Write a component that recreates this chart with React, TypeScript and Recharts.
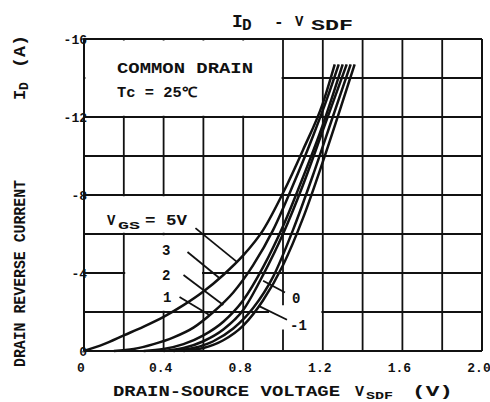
import { LineChart, Line, XAxis, YAxis, CartesianGrid, ReferenceArea, ReferenceLine } from "recharts";

// grid / tick values
const xTicks = [0, 0.2, 0.4, 0.6, 0.8, 1.0, 1.2, 1.4, 1.6, 1.8, 2.0];
const xLabels = ["0", "", "0.4", "", "0.8", "", "1.2", "", "1.6", "", "2.0"];
const yTicks = [-16, -14, -12, -10, -8, -6, -4, -2, 0];
const yLabels = ["-16", "", "-12", "", "-8", "", "-4", "", "0"];

// V_SDF (V), I_D (A)
const vgs5: [number, number][] = [
  [0, 0], [0.1, -0.35], [0.2, -0.8], [0.3, -1.25], [0.4, -1.75], [0.5, -2.35], [0.6, -3.05],
  [0.7, -3.9], [0.8, -4.9], [0.9, -6.2], [1.0, -8.1], [1.1, -10.3], [1.2, -12.7], [1.26, -14.7],
];
const vgs3: [number, number][] = [
  [0.15, 0], [0.25, -0.1], [0.35, -0.35], [0.45, -0.7], [0.55, -1.2], [0.65, -2.0], [0.75, -3.0],
  [0.85, -4.4], [0.95, -6.2], [1.05, -8.5], [1.15, -11.0], [1.22, -12.9], [1.28, -14.7],
];
const vgs2: [number, number][] = [
  [0.3, 0], [0.4, -0.1], [0.5, -0.35], [0.6, -0.8], [0.7, -1.5], [0.8, -2.6], [0.9, -4.3],
  [1.0, -6.4], [1.1, -8.9], [1.2, -11.6], [1.3, -14.7],
];
const vgs1: [number, number][] = [
  [0.4, 0], [0.5, -0.15], [0.6, -0.5], [0.7, -1.1], [0.8, -2.1], [0.9, -3.9], [1.0, -6.0],
  [1.1, -8.5], [1.2, -11.3], [1.32, -14.7],
];
const vgs0: [number, number][] = [
  [0.45, 0], [0.55, -0.15], [0.65, -0.5], [0.75, -1.15], [0.85, -2.2], [0.95, -3.8], [1.05, -6.2],
  [1.15, -9.0], [1.25, -12.0], [1.34, -14.7],
];
const vgsM1: [number, number][] = [
  [0.5, 0], [0.6, -0.15], [0.7, -0.55], [0.8, -1.3], [0.9, -2.6], [1.0, -4.4], [1.1, -6.8],
  [1.2, -9.7], [1.3, -12.8], [1.36, -14.7],
];

const curves = [vgs5, vgs3, vgs2, vgs1, vgs0, vgsM1];

// label leader lines [from, to] as (V, I)
const leaders: [number, number, number, number][] = [
  [0.56, -6.3, 0.77, -4.56],
  [0.52, -5.08, 0.68, -3.74],
  [0.5, -3.9, 0.7, -2.36],
  [0.48, -2.77, 0.63, -1.85],
  [0.9, -3.6, 1.01, -3.0],
  [0.88, -2.3, 1.02, -1.6],
];

const INK = "#111";
const FONT = "'Liberation Mono', 'DejaVu Sans Mono', monospace";

export default function App() {
  const series = curves.map((pts) => pts.map(([v, i]) => ({ v, i })));

  return (
    <div style={{ position: "absolute", left: 0, top: 0, width: 490, height: 402, background: "#fff" }}>
      <LineChart width={490} height={402} margin={{ top: 39, right: 8, bottom: 21, left: 44 }}>
        <CartesianGrid stroke={INK} strokeWidth={1.8} />
        <XAxis
          dataKey="v"
          type="number"
          domain={[0, 2]}
          ticks={xTicks}
          interval={0}
          height={30}
          tickSize={0}
          tickMargin={12}
          axisLine={{ stroke: INK, strokeWidth: 2 }}
          tick={{ fill: INK, fontSize: 13, fontFamily: FONT, fontWeight: "bold", dx: -3 }}
          tickFormatter={(v: number) => xLabels[xTicks.indexOf(v)] ?? ""}
          allowDuplicatedCategory={false}
        />
        <YAxis
          dataKey="i"
          type="number"
          domain={[-16, 0]}
          reversed
          ticks={yTicks}
          interval={0}
          width={40}
          tickSize={0}
          tickMargin={0}
          axisLine={{ stroke: INK, strokeWidth: 2 }}
          tick={{ fill: INK, fontSize: 13, fontFamily: FONT, fontWeight: "bold", dx: 3 }}
          tickFormatter={(v: number) => yLabels[yTicks.indexOf(v)] ?? ""}
        />
        {/* blank patches of the printed grid behind the notes */}
        <ReferenceArea x1={0.007} x2={0.993} y1={-15.92} y2={-12.07} fill="#fff" fillOpacity={1} stroke="none" />
        <ReferenceArea x1={0.007} x2={0.593} y1={-7.93} y2={-6.07} fill="#fff" fillOpacity={1} stroke="none" />
        <ReferenceArea x1={0.207} x2={0.593} y1={-5.93} y2={-2.07} fill="#fff" fillOpacity={1} stroke="none" />
        <ReferenceArea x1={0.93} x2={1.193} y1={-2.35} y2={-1.1} fill="#fff" fillOpacity={1} stroke="none" />
        <ReferenceLine y={-16} stroke={INK} strokeWidth={2} />
        <ReferenceLine x={2} stroke={INK} strokeWidth={2} />
        {leaders.map(([x1, y1, x2, y2], k) => (
          <ReferenceLine
            key={`ld${k}`}
            segment={[{ x: x1, y: y1 }, { x: x2, y: y2 }]}
            stroke={INK}
            strokeWidth={1.8}
          />
        ))}
        {series.map((d, k) => (
          <Line
            key={`c${k}`}
            data={d}
            dataKey="i"
            type="monotone"
            dot={false}
            stroke={INK}
            strokeWidth={2.5}
            isAnimationActive={false}
          />
        ))}
      </LineChart>
      <svg
        width={490}
        height={402}
        style={{ position: "absolute", left: 0, top: 0, pointerEvents: "none" }}
        fontFamily={FONT}
        fontWeight="bold"
        fill={INK}
      >
        {/* title */}
        <text x={232} y={27} fontSize={18}>I</text>
        <text x={242} y={30} fontSize={16}>D</text>
        <text x={274} y={27} fontSize={16}>-</text>
        <text x={295} y={26} fontSize={14}>V</text>
        <text x={311} y={30} fontSize={15} textLength={42} lengthAdjust="spacingAndGlyphs">SDF</text>

        {/* y axis title */}
        <g transform="translate(25 367) rotate(-90)">
          <text x={0} y={0} fontSize={17} textLength={187} lengthAdjust="spacingAndGlyphs">
            DRAIN REVERSE CURRENT
          </text>
          <text x={267} y={0} fontSize={17}>I</text>
          <text x={277} y={3} fontSize={13}>D</text>
          <text x={299} y={0} fontSize={17} textLength={33} lengthAdjust="spacingAndGlyphs">(A)</text>
        </g>

        {/* x axis title */}
        <text x={113} y={396} fontSize={15} textLength={227} lengthAdjust="spacingAndGlyphs">
          DRAIN-SOURCE VOLTAGE
        </text>
        <text x={355} y={396} fontSize={15}>V</text>
        <text x={366} y={399} fontSize={11} textLength={27} lengthAdjust="spacingAndGlyphs">SDF</text>
        <text x={412} y={396} fontSize={15} textLength={41} lengthAdjust="spacingAndGlyphs">(V)</text>

        {/* notes */}
        <text x={117} y={73} fontSize={14} textLength={136} lengthAdjust="spacingAndGlyphs">COMMON DRAIN</text>
        <text x={117} y={97} fontSize={14} textLength={80} lengthAdjust="spacingAndGlyphs">Tc = 25℃</text>

        <text x={107} y={225} fontSize={14}>V</text>
        <text x={118} y={229} fontSize={11} textLength={22} lengthAdjust="spacingAndGlyphs">GS</text>
        <text x={145} y={225} fontSize={14} textLength={42} lengthAdjust="spacingAndGlyphs">= 5V</text>
        <text x={162} y={255} fontSize={14}>3</text>
        <text x={162} y={280} fontSize={14}>2</text>
        <text x={163} y={302} fontSize={14}>1</text>
        <text x={292} y={303} fontSize={14}>0</text>
        <text x={290} y={330} fontSize={14}>-1</text>
      </svg>
    </div>
  );
}
